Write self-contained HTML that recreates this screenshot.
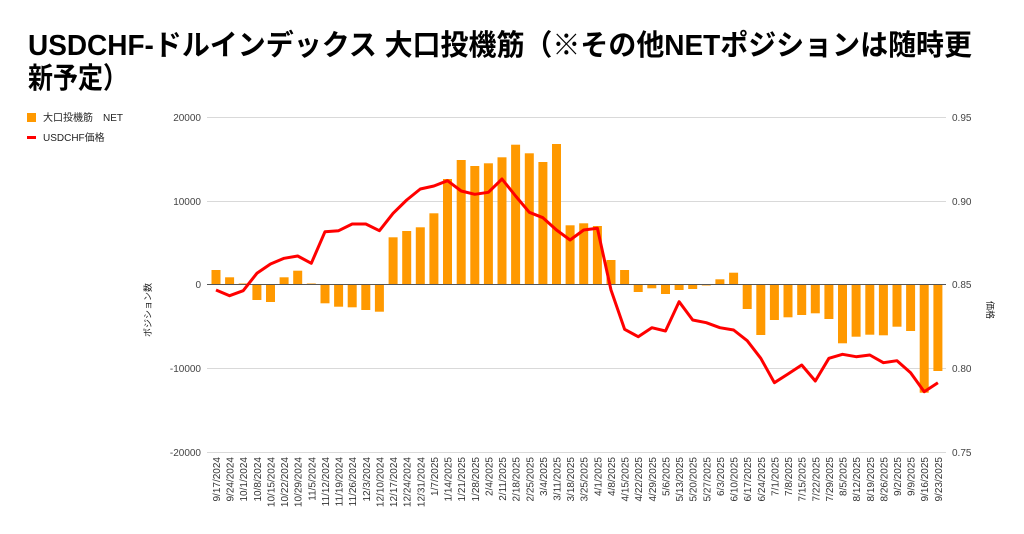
<!DOCTYPE html>
<html><head><meta charset="utf-8"><style>
body{margin:0;background:#fff;}
svg{display:block;font-family:"Liberation Sans","Noto Sans CJK JP",sans-serif;}
</style></head><body>
<svg width="1024" height="534" viewBox="0 0 1024 534" xmlns="http://www.w3.org/2000/svg">
<rect width="1024" height="534" fill="#fff"/>
<text x="28" y="55" font-size="29" font-weight="bold" fill="#000" textLength="944" lengthAdjust="spacingAndGlyphs">USDCHF-ドルインデックス 大口投機筋（※その他NETポジションは随時更</text>
<text x="28" y="88" font-size="29" font-weight="bold" fill="#000" textLength="100" lengthAdjust="spacingAndGlyphs">新予定）</text>
<rect x="27" y="113" width="9" height="9" fill="#ff9900"/>
<text x="43" y="121" font-size="10" fill="#222">大口投機筋　NET</text>
<rect x="27" y="136" width="9" height="3" fill="#ff0000"/>
<text x="43" y="141" font-size="10" fill="#222">USDCHF価格</text>
<g stroke="#d9d9d9" stroke-width="1">
<line x1="207" y1="117.5" x2="946" y2="117.5"/>
<line x1="207" y1="201.5" x2="946" y2="201.5"/>
<line x1="207" y1="368.5" x2="946" y2="368.5"/>
<line x1="207" y1="452.5" x2="946" y2="452.5"/>
</g>
<g font-size="10" fill="#444" text-anchor="end">
<text x="201" y="121">20000</text>
<text x="201" y="205">10000</text>
<text x="201" y="288">0</text>
<text x="201" y="372">-10000</text>
<text x="201" y="456">-20000</text>
</g>
<g font-size="10" fill="#444">
<text x="952" y="121">0.95</text>
<text x="952" y="205">0.90</text>
<text x="952" y="288">0.85</text>
<text x="952" y="372">0.80</text>
<text x="952" y="456">0.75</text>
</g>
<text transform="translate(151,310) rotate(-90)" font-size="9" fill="#222" text-anchor="middle">ポジション数</text>
<text transform="translate(987,310) rotate(90)" font-size="9" fill="#222" text-anchor="middle">価格</text>
<g fill="#ff9900">
<rect x="211.5" y="270" width="9" height="14.5"/>
<rect x="225.1" y="277.3" width="9" height="7.2"/>
<rect x="238.7" y="283.5" width="9" height="1"/>
<rect x="252.4" y="284.5" width="9" height="15.5"/>
<rect x="266" y="284.5" width="9" height="17.5"/>
<rect x="279.6" y="277.3" width="9" height="7.2"/>
<rect x="293.2" y="270.7" width="9" height="13.8"/>
<rect x="306.8" y="283.5" width="9" height="1"/>
<rect x="320.5" y="284.5" width="9" height="18.8"/>
<rect x="334.1" y="284.5" width="9" height="22.2"/>
<rect x="347.7" y="284.5" width="9" height="22.8"/>
<rect x="361.3" y="284.5" width="9" height="25.5"/>
<rect x="374.9" y="284.5" width="9" height="27.2"/>
<rect x="388.6" y="237.3" width="9" height="47.2"/>
<rect x="402.2" y="231" width="9" height="53.5"/>
<rect x="415.8" y="227.3" width="9" height="57.2"/>
<rect x="429.4" y="213.3" width="9" height="71.2"/>
<rect x="443" y="179" width="9" height="105.5"/>
<rect x="456.7" y="160" width="9" height="124.5"/>
<rect x="470.3" y="166" width="9" height="118.5"/>
<rect x="483.9" y="163.3" width="9" height="121.2"/>
<rect x="497.5" y="157.3" width="9" height="127.2"/>
<rect x="511.1" y="144.7" width="9" height="139.8"/>
<rect x="524.8" y="153.3" width="9" height="131.2"/>
<rect x="538.4" y="162" width="9" height="122.5"/>
<rect x="552" y="144" width="9" height="140.5"/>
<rect x="565.6" y="225.3" width="9" height="59.2"/>
<rect x="579.2" y="223.3" width="9" height="61.2"/>
<rect x="592.9" y="226" width="9" height="58.5"/>
<rect x="606.5" y="260" width="9" height="24.5"/>
<rect x="620.1" y="270" width="9" height="14.5"/>
<rect x="633.7" y="284.5" width="9" height="7.5"/>
<rect x="647.3" y="284.5" width="9" height="3.8"/>
<rect x="661" y="284.5" width="9" height="9.5"/>
<rect x="674.6" y="284.5" width="9" height="5.5"/>
<rect x="688.2" y="284.5" width="9" height="4.5"/>
<rect x="701.8" y="284.5" width="9" height="1"/>
<rect x="715.4" y="279.3" width="9" height="5.2"/>
<rect x="729.1" y="272.7" width="9" height="11.8"/>
<rect x="742.7" y="284.5" width="9" height="24.5"/>
<rect x="756.3" y="284.5" width="9" height="50.5"/>
<rect x="769.9" y="284.5" width="9" height="35.5"/>
<rect x="783.5" y="284.5" width="9" height="32.8"/>
<rect x="797.2" y="284.5" width="9" height="30.5"/>
<rect x="810.8" y="284.5" width="9" height="28.8"/>
<rect x="824.4" y="284.5" width="9" height="34.5"/>
<rect x="838" y="284.5" width="9" height="58.8"/>
<rect x="851.6" y="284.5" width="9" height="52.2"/>
<rect x="865.3" y="284.5" width="9" height="50.2"/>
<rect x="878.9" y="284.5" width="9" height="50.8"/>
<rect x="892.5" y="284.5" width="9" height="42.2"/>
<rect x="906.1" y="284.5" width="9" height="46.5"/>
<rect x="919.7" y="284.5" width="9" height="108.2"/>
<rect x="933.4" y="284.5" width="9" height="86.5"/>
</g>
<line x1="207" y1="284.5" x2="946" y2="284.5" stroke="#555" stroke-width="1"/>
<polyline fill="none" stroke="#ff0000" stroke-width="3" stroke-linejoin="round" points="216,290 229.6,295.7 243.2,290.7 256.9,273.3 270.5,264 284.1,258.3 297.7,256 311.3,263.3 325,231.7 338.6,230.7 352.2,224 365.8,224 379.4,230.7 393.1,213.3 406.7,200 420.3,189 433.9,186 447.5,180.7 461.2,191 474.8,194.3 488.4,192.3 502,179 515.6,196 529.3,212.3 542.9,217.7 556.5,230 570.1,240 583.7,230 597.4,228.3 611,290 624.6,329.3 638.2,336.7 651.8,327.7 665.5,331 679.1,301.7 692.7,320 706.3,322.7 719.9,327.7 733.6,330 747.2,340.7 760.8,358.3 774.4,382.7 788,374 801.7,365 815.3,381 828.9,358.3 842.5,354.3 856.1,356.7 869.8,355 883.4,362.7 897,360.7 910.6,372.7 924.2,391.7 937.9,382.7"/>
<g font-size="10" fill="#333" text-anchor="end">
<text transform="translate(220,457) rotate(-90)">9/17/2024</text>
<text transform="translate(233.6,457) rotate(-90)">9/24/2024</text>
<text transform="translate(247.2,457) rotate(-90)">10/1/2024</text>
<text transform="translate(260.9,457) rotate(-90)">10/8/2024</text>
<text transform="translate(274.5,457) rotate(-90)">10/15/2024</text>
<text transform="translate(288.1,457) rotate(-90)">10/22/2024</text>
<text transform="translate(301.7,457) rotate(-90)">10/29/2024</text>
<text transform="translate(315.3,457) rotate(-90)">11/5/2024</text>
<text transform="translate(329,457) rotate(-90)">11/12/2024</text>
<text transform="translate(342.6,457) rotate(-90)">11/19/2024</text>
<text transform="translate(356.2,457) rotate(-90)">11/26/2024</text>
<text transform="translate(369.8,457) rotate(-90)">12/3/2024</text>
<text transform="translate(383.4,457) rotate(-90)">12/10/2024</text>
<text transform="translate(397.1,457) rotate(-90)">12/17/2024</text>
<text transform="translate(410.7,457) rotate(-90)">12/24/2024</text>
<text transform="translate(424.3,457) rotate(-90)">12/31/2024</text>
<text transform="translate(437.9,457) rotate(-90)">1/7/2025</text>
<text transform="translate(451.5,457) rotate(-90)">1/14/2025</text>
<text transform="translate(465.2,457) rotate(-90)">1/21/2025</text>
<text transform="translate(478.8,457) rotate(-90)">1/28/2025</text>
<text transform="translate(492.4,457) rotate(-90)">2/4/2025</text>
<text transform="translate(506,457) rotate(-90)">2/11/2025</text>
<text transform="translate(519.6,457) rotate(-90)">2/18/2025</text>
<text transform="translate(533.3,457) rotate(-90)">2/25/2025</text>
<text transform="translate(546.9,457) rotate(-90)">3/4/2025</text>
<text transform="translate(560.5,457) rotate(-90)">3/11/2025</text>
<text transform="translate(574.1,457) rotate(-90)">3/18/2025</text>
<text transform="translate(587.7,457) rotate(-90)">3/25/2025</text>
<text transform="translate(601.4,457) rotate(-90)">4/1/2025</text>
<text transform="translate(615,457) rotate(-90)">4/8/2025</text>
<text transform="translate(628.6,457) rotate(-90)">4/15/2025</text>
<text transform="translate(642.2,457) rotate(-90)">4/22/2025</text>
<text transform="translate(655.8,457) rotate(-90)">4/29/2025</text>
<text transform="translate(669.5,457) rotate(-90)">5/6/2025</text>
<text transform="translate(683.1,457) rotate(-90)">5/13/2025</text>
<text transform="translate(696.7,457) rotate(-90)">5/20/2025</text>
<text transform="translate(710.3,457) rotate(-90)">5/27/2025</text>
<text transform="translate(723.9,457) rotate(-90)">6/3/2025</text>
<text transform="translate(737.6,457) rotate(-90)">6/10/2025</text>
<text transform="translate(751.2,457) rotate(-90)">6/17/2025</text>
<text transform="translate(764.8,457) rotate(-90)">6/24/2025</text>
<text transform="translate(778.4,457) rotate(-90)">7/1/2025</text>
<text transform="translate(792,457) rotate(-90)">7/8/2025</text>
<text transform="translate(805.7,457) rotate(-90)">7/15/2025</text>
<text transform="translate(819.3,457) rotate(-90)">7/22/2025</text>
<text transform="translate(832.9,457) rotate(-90)">7/29/2025</text>
<text transform="translate(846.5,457) rotate(-90)">8/5/2025</text>
<text transform="translate(860.1,457) rotate(-90)">8/12/2025</text>
<text transform="translate(873.8,457) rotate(-90)">8/19/2025</text>
<text transform="translate(887.4,457) rotate(-90)">8/26/2025</text>
<text transform="translate(901,457) rotate(-90)">9/2/2025</text>
<text transform="translate(914.6,457) rotate(-90)">9/9/2025</text>
<text transform="translate(928.2,457) rotate(-90)">9/16/2025</text>
<text transform="translate(941.9,457) rotate(-90)">9/23/2025</text>
</g>
</svg>
</body></html>
